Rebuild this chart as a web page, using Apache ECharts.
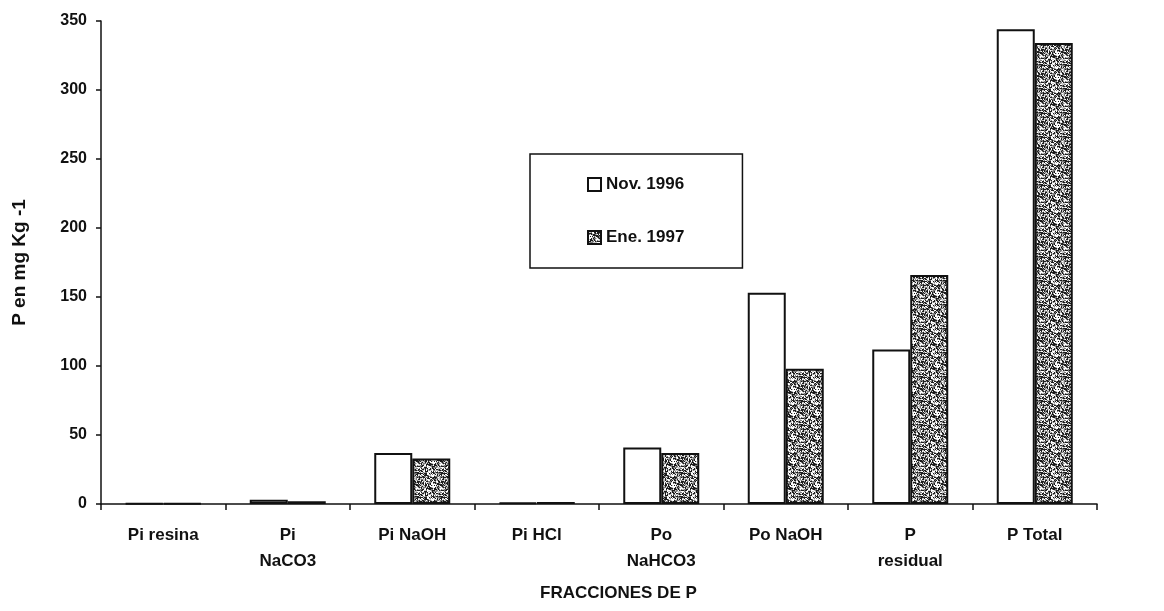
<!DOCTYPE html>
<html>
<head>
<meta charset="utf-8">
<script src="https://cdn.jsdelivr.net/npm/echarts@6/dist/echarts.min.js"></script>
<style>
  html, body { margin: 0; padding: 0; background: #fff; }
  #chart { width: 1164px; height: 611px; }
</style>
</head>
<body>
<div id="chart"></div>
<script>
// Fracciones de P
const categories = ["Pi resina", "Pi\nNaCO3", "Pi NaOH", "Pi HCl", "Po\nNaHCO3", "Po NaOH", "P\nresidual", "P Total"];
const nov1996 = [0.5, 3, 37, 1, 41, 153, 112, 344];
const ene1997 = [0.5, 2, 33, 1.5, 37, 98, 166, 334];
const seriesNames = ["Nov. 1996", "Ene. 1997"];
const yTicks = [0, 50, 100, 150, 200, 250, 300, 350];

const FONT = "'Liberation Sans', Arial, sans-serif";

// motif granuleux du scan (deterministe, pas de donnees)
function speckle() {
  const size = 24;
  const c = document.createElement("canvas");
  c.width = size; c.height = size;
  const ctx = c.getContext("2d");
  ctx.fillStyle = "#5a5a5a";
  ctx.fillRect(0, 0, size, size);
  let s = 7;
  const rnd = () => { s = (s * 16807) % 2147483647; return s / 2147483647; };
  for (let y = 0; y < size; y++) {
    for (let x = 0; x < size; x++) {
      const r = rnd();
      if (r < 0.38) ctx.fillStyle = "#1c1c1c";
      else if (r < 0.62) ctx.fillStyle = "#7a7a7a";
      else if (r < 0.8) ctx.fillStyle = "#c8c8c8";
      else ctx.fillStyle = "#ffffff";
      ctx.fillRect(x, y, 1, 1);
    }
  }
  return c;
}

const chart = echarts.init(document.getElementById("chart"));

chart.setOption({
  animation: false,
  backgroundColor: "#ffffff",
  textStyle: { fontFamily: FONT },
  grid: { left: 101, right: 67, top: 21, bottom: 107 },
  legend: {
    orient: "vertical",
    left: 530,
    top: 154,
    padding: [22, 58, 22, 57],
    itemGap: 36,
    itemWidth: 13,
    itemHeight: 13,
    icon: "rect",
    borderColor: "#111",
    borderWidth: 1.5,
    backgroundColor: "#fff",
    textStyle: { fontFamily: FONT, fontWeight: "bold", fontSize: 17, color: "#111" },
    data: seriesNames
  },
  xAxis: {
    type: "category",
    data: categories,
    axisLine: { lineStyle: { color: "#111", width: 1.5 } },
    axisTick: { show: true, length: 6, lineStyle: { color: "#111", width: 1.5 } },
    axisLabel: {
      interval: 0,
      margin: 18,
      color: "#111",
      fontFamily: FONT,
      fontWeight: "bold",
      fontSize: 17,
      lineHeight: 26
    }
  },
  yAxis: {
    type: "value",
    min: yTicks[0],
    max: yTicks[yTicks.length - 1],
    interval: 50,
    name: "P en mg Kg -1",
    nameLocation: "middle",
    nameGap: 72,
    nameTextStyle: { fontFamily: FONT, fontWeight: "bold", fontSize: 19, color: "#111" },
    axisLine: { show: true, lineStyle: { color: "#111", width: 1.5 } },
    axisTick: { show: true, length: 5, lineStyle: { color: "#111", width: 1.5 } },
    splitLine: { show: false },
    axisLabel: {
      margin: 14,
      color: "#111",
      fontFamily: FONT,
      fontWeight: "bold",
      fontSize: 16
    }
  },
  graphic: [{
    type: "text",
    left: 540,
    top: 585,
    style: {
      text: "FRACCIONES DE P",
      font: "bold 17px " + FONT,
      fill: "#111"
    }
  }],
  series: [
    {
      name: seriesNames[0],
      type: "bar",
      data: nov1996,
      barWidth: 38,
      barGap: "0%",
      itemStyle: { color: "#ffffff", borderColor: "#111", borderWidth: 2 }
    },
    {
      name: seriesNames[1],
      type: "bar",
      data: ene1997,
      barWidth: 38,
      barGap: "0%",
      itemStyle: {
        color: { image: speckle(), repeat: "repeat" },
        borderColor: "#111",
        borderWidth: 2
      }
    }
  ]
});
</script>
</body>
</html>
